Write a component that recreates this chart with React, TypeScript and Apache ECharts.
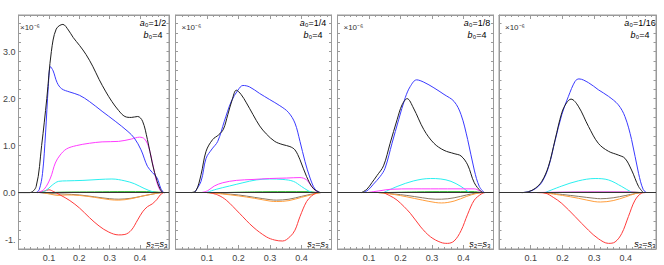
import React, { useEffect, useRef } from "react";
import * as echarts from "echarts";

// ---------- data (x, value ×10^-6) ----------
const xTickLabels = ["0.1", "0.2", "0.3", "0.4"];
const yTickLabels: Record<string, string> = { "3": "3.0", "2": "2.0", "1": "1.0", "0": "0.0", "-1": "-1." };
const panelA0 = ["1/2", "1/4", "1/8", "1/16"];
const panelB0 = ["4", "4", "4", "4"];

const p1Black = [[0,0],[0.036,0],[0.058,0.13],[0.076,1.0],[0.093,2.0],[0.108,3.0],[0.124,3.48],[0.146,3.58],[0.164,3.46],[0.18,3.3],[0.201,3.13],[0.222,2.94],[0.244,2.69],[0.265,2.41],[0.286,2.16],[0.307,1.94],[0.329,1.75],[0.35,1.62],[0.371,1.6],[0.392,1.62],[0.408,1.52],[0.424,1.13],[0.44,0.63],[0.456,0.24],[0.471,0.02],[0.482,0]];
const p1Blue = [[0.058,0],[0.068,0.06],[0.079,0.41],[0.089,1.27],[0.098,2.26],[0.105,2.68],[0.114,2.59],[0.127,2.34],[0.142,2.21],[0.169,2.14],[0.201,2.07],[0.233,1.94],[0.275,1.73],[0.318,1.52],[0.36,1.3],[0.381,1.16],[0.403,0.91],[0.424,0.56],[0.44,0.43],[0.456,0.31],[0.468,0.09],[0.477,0]];
const p1Magenta = [[0.063,0],[0.084,0.07],[0.105,0.31],[0.121,0.63],[0.137,0.8],[0.158,0.93],[0.19,1.0],[0.233,1.05],[0.275,1.08],[0.329,1.09],[0.371,1.14],[0.398,1.18],[0.415,1.14],[0.429,0.95],[0.443,0.56],[0.456,0.2],[0.471,0.01],[0.48,0]];
const p1Cyan = [[0.068,0],[0.089,0.04],[0.111,0.16],[0.132,0.24],[0.158,0.25],[0.212,0.26],[0.265,0.28],[0.307,0.29],[0.35,0.25],[0.381,0.19],[0.413,0.09],[0.445,0.01],[0.461,0]];
const p1Green = [[0.1,0],[0.15,0.01],[0.25,0.015],[0.35,0.02],[0.42,0.02],[0.46,0.01],[0.48,0]];
const p1Brown = [[0.07,0],[0.1,-0.02],[0.15,-0.03],[0.2,-0.05],[0.25,-0.09],[0.3,-0.13],[0.33,-0.14],[0.37,-0.12],[0.41,-0.07],[0.45,-0.02],[0.47,0]];
const p1Orange = [[0.08,0],[0.11,-0.04],[0.13,-0.06],[0.16,-0.05],[0.2,-0.06],[0.25,-0.1],[0.3,-0.15],[0.33,-0.16],[0.37,-0.13],[0.41,-0.07],[0.45,-0.02],[0.47,0]];
const p1Red = [[0.063,0],[0.084,0.03],[0.1,0.06],[0.116,0.02],[0.137,-0.05],[0.169,-0.17],[0.201,-0.33],[0.233,-0.53],[0.265,-0.71],[0.297,-0.84],[0.329,-0.9],[0.35,-0.89],[0.371,-0.8],[0.392,-0.58],[0.408,-0.41],[0.424,-0.3],[0.44,-0.24],[0.456,-0.14],[0.466,-0.05],[0.477,0]];

const p2Black = [[0.049,0],[0.065,0.04],[0.081,0.38],[0.097,0.88],[0.118,1.13],[0.137,1.23],[0.152,1.35],[0.166,1.66],[0.18,1.98],[0.193,2.18],[0.208,2.09],[0.225,1.91],[0.246,1.66],[0.267,1.42],[0.288,1.25],[0.315,1.09],[0.341,1.02],[0.363,0.98],[0.379,0.91],[0.395,0.7],[0.416,0.34],[0.437,0.09],[0.459,0]];
const p2Blue = [[0.06,0],[0.081,0.24],[0.097,0.73],[0.116,0.93],[0.134,1.09],[0.155,1.52],[0.177,1.94],[0.198,2.18],[0.214,2.28],[0.235,2.25],[0.267,2.11],[0.299,1.98],[0.331,1.85],[0.358,1.71],[0.379,1.48],[0.395,1.09],[0.411,0.66],[0.427,0.31],[0.443,0.07],[0.459,0]];
const p2Magenta = [[0.081,0],[0.102,0.04],[0.123,0.14],[0.15,0.21],[0.193,0.26],[0.246,0.28],[0.299,0.3],[0.352,0.31],[0.395,0.32],[0.416,0.27],[0.432,0.13],[0.448,0.02],[0.459,0]];
const p2Cyan = [[0.097,0],[0.129,0.07],[0.171,0.14],[0.214,0.21],[0.256,0.27],[0.299,0.29],[0.341,0.28],[0.374,0.24],[0.4,0.13],[0.421,0.04],[0.437,0]];
const p2Green = [[0.15,0],[0.25,0.015],[0.35,0.02],[0.42,0.02],[0.45,0]];
const p2Brown = [[0.1,0],[0.15,-0.02],[0.2,-0.05],[0.25,-0.1],[0.3,-0.15],[0.32,-0.16],[0.36,-0.14],[0.4,-0.08],[0.44,-0.02],[0.46,0]];
const p2Orange = [[0.1,0],[0.15,-0.03],[0.2,-0.07],[0.25,-0.12],[0.3,-0.18],[0.32,-0.19],[0.36,-0.17],[0.4,-0.1],[0.44,-0.03],[0.46,0]];
const p2Red = [[0.107,0],[0.134,-0.05],[0.161,-0.16],[0.203,-0.44],[0.246,-0.73],[0.288,-0.94],[0.315,-1.01],[0.34,-1.03],[0.363,-0.94],[0.379,-0.8],[0.395,-0.51],[0.416,-0.19],[0.432,-0.07],[0.448,0]];

const p3Black = [[0.076,0],[0.093,0.07],[0.109,0.21],[0.125,0.36],[0.146,0.57],[0.167,1.05],[0.189,1.55],[0.205,1.87],[0.221,2.0],[0.241,1.8],[0.274,1.34],[0.306,1.05],[0.338,0.9],[0.37,0.83],[0.392,0.78],[0.413,0.59],[0.434,0.21],[0.456,0.02],[0.466,0]];
const p3Blue = [[0.082,0],[0.098,0.06],[0.114,0.18],[0.135,0.34],[0.151,0.52],[0.173,1.05],[0.194,1.55],[0.215,2.02],[0.231,2.26],[0.251,2.4],[0.274,2.35],[0.306,2.23],[0.338,2.09],[0.37,1.94],[0.392,1.66],[0.413,1.13],[0.434,0.48],[0.45,0.13],[0.466,0]];
const p3Magenta = [[0.093,0],[0.135,0.04],[0.167,0.07],[0.24,0.08],[0.349,0.08],[0.434,0.08],[0.45,0.04],[0.461,0]];
const p3Cyan = [[0.146,0],[0.189,0.13],[0.242,0.25],[0.295,0.3],[0.328,0.29],[0.36,0.24],[0.392,0.13],[0.418,0.01],[0.429,0]];
const p3Green = [[0.15,0],[0.25,0.015],[0.35,0.02],[0.43,0.02],[0.46,0]];
const p3Brown = [[0.13,0],[0.18,-0.03],[0.22,-0.06],[0.27,-0.11],[0.31,-0.14],[0.33,-0.14],[0.37,-0.11],[0.41,-0.05],[0.44,-0.01],[0.46,0]];
const p3Orange = [[0.13,0],[0.18,-0.04],[0.22,-0.09],[0.27,-0.16],[0.31,-0.21],[0.33,-0.22],[0.37,-0.18],[0.41,-0.08],[0.44,-0.02],[0.46,0]];
const p3Red = [[0.146,0],[0.167,-0.07],[0.189,-0.16],[0.231,-0.44],[0.264,-0.73],[0.295,-0.94],[0.328,-1.06],[0.349,-1.08],[0.37,-1.03],[0.392,-0.81],[0.413,-0.46],[0.434,-0.16],[0.456,-0.03],[0.466,0]];

const p4Black = [[0.072,0],[0.093,0.02],[0.114,0.09],[0.135,0.24],[0.156,0.56],[0.177,1.13],[0.198,1.7],[0.213,1.91],[0.227,1.99],[0.25,1.84],[0.282,1.41],[0.313,1.05],[0.345,0.88],[0.376,0.8],[0.397,0.73],[0.418,0.48],[0.44,0.13],[0.455,0]];
const p4Blue = [[0.072,0],[0.093,0.02],[0.114,0.08],[0.135,0.22],[0.156,0.54],[0.177,1.11],[0.198,1.66],[0.219,2.05],[0.24,2.37],[0.252,2.42],[0.282,2.34],[0.313,2.19],[0.345,2.05],[0.376,1.87],[0.397,1.62],[0.418,1.13],[0.44,0.41],[0.455,0.06],[0.466,0]];
const p4Magenta = [[0.1,0],[0.2,0.01],[0.3,0.015],[0.4,0.015],[0.45,0]];
const p4Cyan = [[0.145,0],[0.198,0.14],[0.25,0.25],[0.303,0.3],[0.345,0.27],[0.387,0.13],[0.418,0.01],[0.429,0]];
const p4Green = [[0.15,0],[0.3,0.01],[0.42,0.01],[0.45,0]];
const p4Brown = [[0.14,0],[0.2,-0.04],[0.25,-0.08],[0.3,-0.12],[0.32,-0.13],[0.36,-0.11],[0.4,-0.06],[0.43,-0.02],[0.45,0]];
const p4Orange = [[0.14,0],[0.2,-0.06],[0.25,-0.12],[0.3,-0.19],[0.32,-0.2],[0.36,-0.17],[0.4,-0.09],[0.43,-0.02],[0.45,0]];
const p4Red = [[0.12,0],[0.145,-0.01],[0.171,-0.1],[0.198,-0.23],[0.24,-0.51],[0.282,-0.8],[0.313,-0.98],[0.345,-1.08],[0.366,-1.05],[0.387,-0.87],[0.408,-0.51],[0.429,-0.16],[0.45,-0.01],[0.461,0]];

const panelSeries = [
  { green: p1Green, brown: p1Brown, orange: p1Orange, red: p1Red, cyan: p1Cyan, magenta: p1Magenta, blue: p1Blue, black: p1Black },
  { green: p2Green, brown: p2Brown, orange: p2Orange, red: p2Red, cyan: p2Cyan, magenta: p2Magenta, blue: p2Blue, black: p2Black },
  { green: p3Green, brown: p3Brown, orange: p3Orange, red: p3Red, cyan: p3Cyan, magenta: p3Magenta, blue: p3Blue, black: p3Black },
  { green: p4Green, brown: p4Brown, orange: p4Orange, red: p4Red, cyan: p4Cyan, magenta: p4Magenta, blue: p4Blue, black: p4Black },
];

// ---------- styling ----------
const COLORS: Record<string, string> = {
  green: "#22b422",
  brown: "#8a7a66",
  orange: "#ff9e3d",
  red: "#ff3b3b",
  cyan: "#2af0f0",
  magenta: "#ff3cff",
  blue: "#3a3aff",
  black: "#1e1e1e",
};
const FF = "'Liberation Sans', Arial, sans-serif";
const GRID_LEFT = [14, 175.5, 337.5, 499];
const GRID_WIDTH = [155, 156, 156, 157];
const GRID_TOP = 15;
const GRID_HEIGHT = 234;
const A_X = [153, 313, 477, 640];
const S_X = [157, 318, 480, 645];
const FRAME = "#9a9a9a";
const TEXT = "#444";

export default function App() {
  const ref = useRef<HTMLDivElement>(null);

  useEffect(() => {
    if (!ref.current) return;
    const chart = echarts.init(ref.current, undefined, { renderer: "svg" });

    const grid: any[] = [];
    const xAxis: any[] = [];
    const yAxis: any[] = [];
    const series: any[] = [];
    const graphic: any[] = [];

    panelSeries.forEach((ps, i) => {
      grid.push({
        left: GRID_LEFT[i], top: GRID_TOP, width: GRID_WIDTH[i], height: GRID_HEIGHT,
        show: true, borderColor: FRAME, borderWidth: 1, backgroundColor: "transparent",
      });
      const xBase = {
        gridIndex: i, type: "value", min: 0, max: 0.495, interval: 0.1,
        axisLine: { show: true, onZero: false, lineStyle: { color: FRAME, width: 1 } },
        axisTick: { show: true, inside: true, length: 4, lineStyle: { color: FRAME } },
        minorTick: { show: true, splitNumber: 5, length: 2, lineStyle: { color: FRAME } },
        splitLine: { show: false },
      };
      xAxis.push({
        ...xBase, position: "bottom",
        axisLabel: {
          show: true, fontSize: 9, fontFamily: FF, color: TEXT, margin: 4,
          showMinLabel: false, showMaxLabel: false,
          formatter: (v: number) => {
            const s = v.toFixed(1);
            return xTickLabels.includes(s) && Math.abs(v - parseFloat(s)) < 1e-6 ? s : "";
          },
        },
      });
      xAxis.push({ ...xBase, position: "top", axisLabel: { show: false } });
      const yBase = {
        gridIndex: i, type: "value", min: -1.2, max: 3.78, interval: 0.2,
        axisLine: { show: true, onZero: false, lineStyle: { color: FRAME, width: 1 } },
        axisTick: { show: true, inside: true, length: 2.5, lineStyle: { color: FRAME } },
        splitLine: { show: false },
      };
      yAxis.push({
        ...yBase, position: "left",
        axisLabel: {
          show: i === 0, fontSize: 9, fontFamily: FF, color: TEXT, margin: 3,
          formatter: (v: number) => {
            const r = Math.round(v);
            if (Math.abs(v - r) > 1e-6) return "";
            return yTickLabels[String(r)] ?? "";
          },
        },
      });
      yAxis.push({ ...yBase, position: "right", axisLabel: { show: false } });

      const keys = Object.keys(ps) as (keyof typeof ps)[];
      keys.forEach((k) => {
        const s: any = {
          type: "line", name: `${k}${i}`, xAxisIndex: 2 * i, yAxisIndex: 2 * i,
          data: ps[k], showSymbol: false, symbol: "none", smooth: 0.35,
          lineStyle: { color: COLORS[k], width: 1 }, silent: true, z: 3,
        };
        if (k === "green") {
          s.markLine = {
            silent: true, symbol: "none", label: { show: false },
            lineStyle: { color: "#333", width: 1, type: "solid" },
            data: [{ yAxis: 0 }],
          };
        }
        series.push(s);
      });

      const base = { fontFamily: FF, color: "#333" };
      graphic.push({
        type: "text", x: GRID_LEFT[i] + 6, y: 27,
        style: {
          text: "{n|×10⁻⁶}",
          rich: { n: { ...base, fontSize: 8 } },
          fill: "#333",
          verticalAlign: "middle", textVerticalAlign: "middle",
        },
      });
      graphic.push({
        type: "text", x: A_X[i], y: 23,
        style: {
          text: `{i|a}{n|₀=${panelA0[i]}}`,
          rich: { i: { ...base, fontSize: 9, fontStyle: "italic" }, n: { ...base, fontSize: 9 } },
          align: "center", verticalAlign: "middle", textAlign: "center", textVerticalAlign: "middle",
        },
      });
      graphic.push({
        type: "text", x: A_X[i], y: 35,
        style: {
          text: `{i|b}{n|₀=${panelB0[i]}}`,
          rich: { i: { ...base, fontSize: 9, fontStyle: "italic" }, n: { ...base, fontSize: 9 } },
          align: "center", verticalAlign: "middle", textAlign: "center", textVerticalAlign: "middle",
        },
      });
      graphic.push({
        type: "text", x: S_X[i], y: 244,
        style: {
          text: `{i|s}{n|₂=}{i|s}{n|₃}`,
          rich: { i: { ...base, fontSize: 9, fontStyle: "italic" }, n: { ...base, fontSize: 9 } },
          align: "center", verticalAlign: "middle", textAlign: "center", textVerticalAlign: "middle",
        },
      });
    });

    chart.setOption({
      animation: false,
      backgroundColor: "#fff",
      grid, xAxis, yAxis, series, graphic,
    });
    return () => chart.dispose();
  }, []);

  return (
    <div
      ref={ref}
      style={{ position: "fixed", left: 0, top: 0, width: 664, height: 265, background: "#fff" }}
    />
  );
}
